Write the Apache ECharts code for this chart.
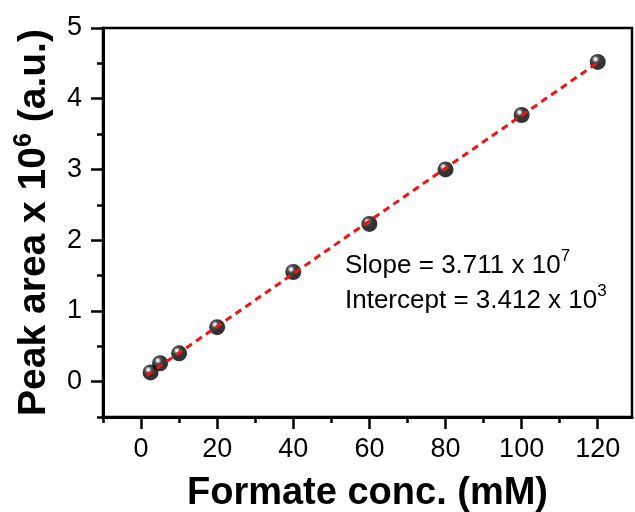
<!DOCTYPE html>
<html>
<head>
<meta charset="utf-8">
<script src="https://cdn.jsdelivr.net/npm/echarts@6/dist/echarts.min.js"></script>
<style>
  html, body { margin: 0; padding: 0; background: #fff; }
  #chart { width: 635px; height: 512px; }
</style>
</head>
<body>
<div id="chart"></div>
<script>
// Calibration points: formate concentration (mM) vs peak area (x 10^6 a.u.)
const concentrations = [2.5, 5, 10, 20, 40, 60, 80, 100, 120];
const peakAreas = [0.13, 0.26, 0.40, 0.77, 1.55, 2.23, 3.00, 3.77, 4.52];

// Ends of the dashed linear fit
const fitX = [1.5, 120];
const fitY = [0.09, 4.51];

// Tick positions
const xMajorTicks = [0, 20, 40, 60, 80, 100, 120];
const xMinorTicks = [-10, 10, 30, 50, 70, 90, 110];
const yMajorTicks = [0, 1, 2, 3, 4, 5];
const yMinorTicks = [-0.5, 0.5, 1.5, 2.5, 3.5, 4.5];

const FONT = "'Liberation Sans', Arial, sans-serif";

const scatterData = concentrations.map((c, i) => [c, peakAreas[i]]);
const fitData = fitX.map((x, i) => [x, fitY[i]]);

// Glossy black sphere fill
const sphere = {
  type: 'radial', x: 0.36, y: 0.33, r: 0.7,
  colorStops: [
    { offset: 0, color: '#ffffff' },
    { offset: 0.1, color: '#dddddd' },
    { offset: 0.3, color: '#202020' },
    { offset: 0.55, color: '#000000' },
    { offset: 1, color: '#000000' }
  ]
};

const chart = echarts.init(document.getElementById('chart'));

const xRange = { min: -10, max: 129 };
const yRange = { min: -0.5, max: 5 };

chart.setOption({
  animation: false,
  backgroundColor: '#ffffff',
  grid: {
    left: 103, right: 3, top: 28, bottom: 95,
    outerBoundsMode: 'none', containLabel: false,
    show: true, borderColor: '#000', borderWidth: 2.5
  },
  xAxis: [
    {
      type: 'value', ...xRange, position: 'bottom',
      name: 'Formate conc. (mM)', nameLocation: 'middle', nameGap: 58,
      nameTextStyle: { fontFamily: FONT, fontWeight: 'bold', fontSize: 38, color: '#000' },
      axisLine: { show: true, onZero: false, lineStyle: { color: '#000', width: 3 } },
      axisTick: { show: true, customValues: xMajorTicks, length: 12, lineStyle: { color: '#000', width: 2.5 } },
      axisLabel: { customValues: xMajorTicks, margin: 19, fontFamily: FONT, fontSize: 27, color: '#000' },
      splitLine: { show: false }
    },
    {
      type: 'value', ...xRange, position: 'bottom',
      axisLine: { show: false, onZero: false },
      axisTick: { show: true, customValues: xMinorTicks, length: 6, lineStyle: { color: '#000', width: 2.5 } },
      axisLabel: { show: false },
      splitLine: { show: false }
    }
  ],
  yAxis: [
    {
      type: 'value', ...yRange, position: 'left',
      name: '{t|Peak area x 10}{s|6}{t| (a.u.)}',
      nameLocation: 'middle', nameGap: 47, nameRotate: 90,
      nameTextStyle: {
        fontFamily: FONT, fontWeight: 'bold', fontSize: 39, color: '#000',
        rich: {
          t: { fontFamily: FONT, fontWeight: 'bold', fontSize: 39, color: '#000', lineHeight: 44 },
          s: { fontFamily: FONT, fontWeight: 'bold', fontSize: 25, color: '#000', lineHeight: 30, verticalAlign: 'top' }
        }
      },
      axisLine: { show: true, onZero: false, lineStyle: { color: '#000', width: 3 } },
      axisTick: { show: true, customValues: yMajorTicks, length: 12, lineStyle: { color: '#000', width: 2.5 } },
      axisLabel: { customValues: yMajorTicks, margin: 21, fontFamily: FONT, fontSize: 27, color: '#000' },
      splitLine: { show: false }
    },
    {
      type: 'value', ...yRange, position: 'left',
      axisLine: { show: false, onZero: false },
      axisTick: { show: true, customValues: yMinorTicks, length: 6, lineStyle: { color: '#000', width: 2.5 } },
      axisLabel: { show: false },
      splitLine: { show: false }
    }
  ],
  graphic: [
    {
      type: 'text', left: 345, top: 248, z: 10,
      style: {
        text: '{t|Slope = 3.711 x 10}{s|7}\n{t|Intercept = 3.412 x 10}{s|3}',
        rich: {
          t: { fontFamily: FONT, fontSize: 26, color: '#000', lineHeight: 35 },
          s: { fontFamily: FONT, fontSize: 17, color: '#000', lineHeight: 26, verticalAlign: 'top' }
        }
      }
    }
  ],
  series: [
    {
      type: 'scatter', xAxisIndex: 0, yAxisIndex: 0,
      data: scatterData, symbol: 'circle', symbolSize: 16, z: 2,
      itemStyle: { color: sphere }
    },
    {
      type: 'line', xAxisIndex: 0, yAxisIndex: 0,
      data: fitData, showSymbol: false, symbol: 'none', z: 3,
      lineStyle: { color: '#f01414', width: 3, type: [7, 5] }
    }
  ]
});
</script>
</body>
</html>
